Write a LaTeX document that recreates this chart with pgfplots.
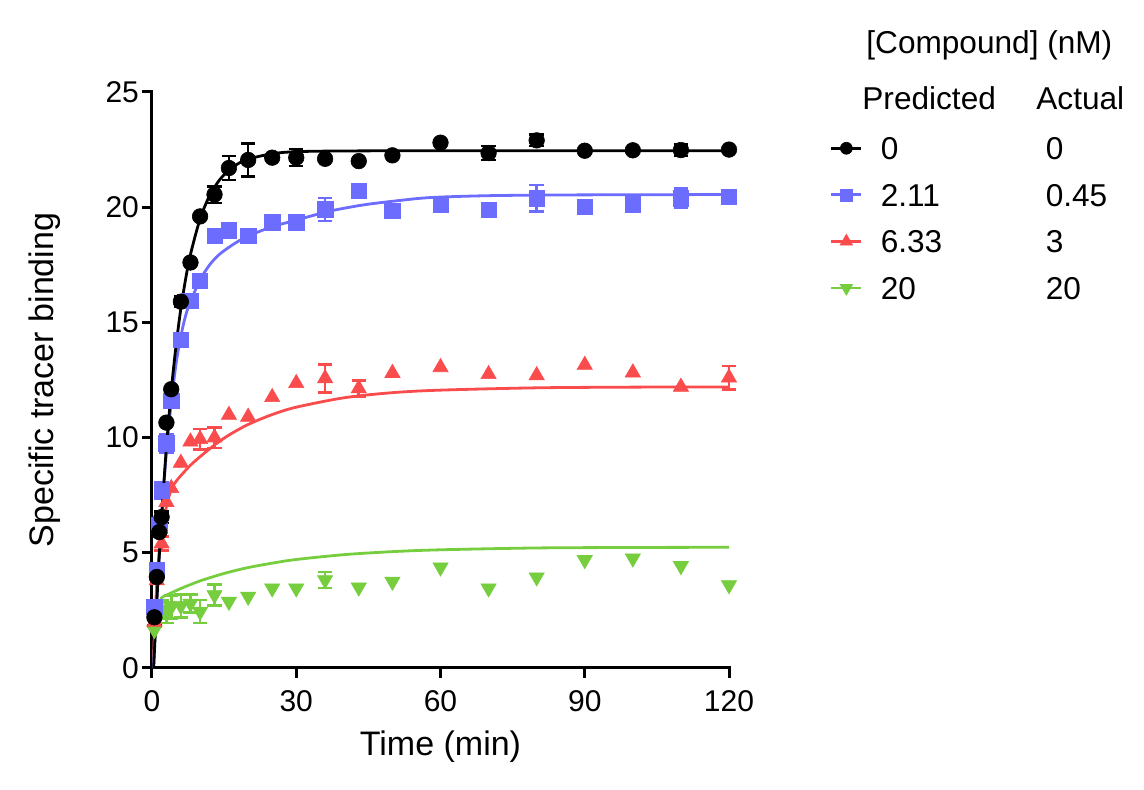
\documentclass[border=0pt]{standalone}
\usepackage{fontspec}
\setmainfont{Liberation Sans}
\usepackage{pgfplots}
\usepackage{pgfplotstable}
\pgfplotsset{compat=1.18}

\definecolor{cblue}{RGB}{108,108,255}
\definecolor{cred}{RGB}{250,76,76}
\definecolor{cgreen}{RGB}{118,206,62}

% Measured binding (mean) per time point, one table per concentration
\pgfplotstableread{
t y
0.5 2.2
1 3.95
1.5 5.9
2 6.55
3 10.65
4 12.1
6 15.9
8 17.6
10 19.6
13 20.55
16 21.7
20 22.05
25 22.15
30 22.15
36 22.1
43 22.0
50 22.25
60 22.8
70 22.35
80 22.9
90 22.45
100 22.47
110 22.48
120 22.5
}\dataA
\pgfplotstableread{
t y e
0.5 2.2 0.35
2 6.55 0.25
6 15.9 0.22
13 20.55 0.36
16 21.7 0.52
20 22.05 0.72
30 22.15 0.37
70 22.35 0.3
80 22.9 0.25
110 22.48 0.25
}\errA

\pgfplotstableread{
t y
0.5 2.65
1 4.25
1.5 6.2
2 7.7
3 9.75
4 11.6
6 14.25
8 15.95
10 16.8
13 18.75
16 19.0
20 18.75
25 19.35
30 19.35
36 19.9
43 20.7
50 19.85
60 20.1
70 19.88
80 20.38
90 20.02
100 20.12
110 20.38
120 20.46
}\dataB
\pgfplotstableread{
t y e
0.5 2.65 0.3
2 7.7 0.35
3 9.75 0.4
36 19.9 0.5
80 20.38 0.58
110 20.38 0.42
}\errB

\pgfplotstableread{
t y
0.5 2.0
1 3.8
2 5.4
3 7.2
4 7.8
6 8.9
8 9.82
10 9.93
13 10.0
16 10.98
20 10.9
25 11.75
30 12.36
36 12.57
43 12.13
50 12.8
60 13.05
70 12.75
80 12.7
90 13.15
100 12.82
110 12.2
120 12.6
}\dataC
\pgfplotstableread{
t y e
0.5 2.0 0.2
1 3.8 0.15
2 5.4 0.3
10 9.93 0.45
13 10.0 0.45
36 12.57 0.6
43 12.13 0.35
120 12.6 0.5
}\errC

\pgfplotstableread{
t y
0.5 1.65
1 2.3
2 2.55
3 2.4
4 2.65
6 2.7
8 2.8
10 2.45
13 3.17
16 2.88
20 3.1
25 3.46
30 3.46
36 3.82
43 3.5
50 3.75
60 4.37
70 3.46
80 3.94
90 4.69
100 4.76
110 4.43
120 3.6
}\dataD
\pgfplotstableread{
t y e
2 2.55 0.4
3 2.4 0.45
4 2.65 0.5
6 2.7 0.5
8 2.8 0.4
10 2.45 0.5
13 3.17 0.45
36 3.82 0.35
}\errD

% Fitted association curves
\pgfplotstableread{
t y
0.35 0
0.5 0.70
1 2.86
1.5 4.82
2 6.58
3 9.58
4 12.02
5 13.99
6 15.60
7 16.89
8 17.95
10 19.49
12 20.51
14 21.17
16 21.61
18 21.90
20 22.09
25 22.32
30 22.41
40 22.44
60 22.45
120 22.45
}\fitA
\pgfplotstableread{
t y
0.3 0
0.5 0.9
1 3.0
1.5 4.9
2 6.6
3 9.4
4 11.5
5 13.2
6 14.4
7 15.3
8 15.9
10 16.85
12 17.5
14 17.95
17 18.4
20 18.75
25 19.15
30 19.44
37 19.83
44 20.1
51 20.28
58 20.42
70 20.5
85 20.53
100 20.54
120 20.55
}\fitB
\pgfplotstableread{
t y
0.3 0
0.5 1.5
1 3.7
1.5 5.0
2 5.9
3 7.0
4 7.75
5 8.1
6 8.35
8 8.8
10 9.17
13 9.68
16 10.11
20 10.57
25 11.0
30 11.32
40 11.73
50 11.95
60 12.06
80 12.16
100 12.19
120 12.2
}\fitC
\pgfplotstableread{
t y
0.3 0
0.5 1.0
1 2.2
1.5 2.75
2 3.05
3 3.16
4 3.26
6 3.45
8 3.62
10 3.78
13 3.98
16 4.16
20 4.36
25 4.55
30 4.71
40 4.92
50 5.05
60 5.13
80 5.21
100 5.23
120 5.24
}\fitD

\pgfplotsset{
  errstyle/.style={forget plot, only marks, mark=none, #1,
    error bars/.cd, y dir=both, y explicit,
    error bar style={line width=1.3pt, #1},
    error mark options={rotate=90, line width=1.3pt, mark size=3.6pt, #1}},
  fitstyle/.style={forget plot, no markers, smooth, line width=1.4pt, #1},
}

\begin{document}
\begin{tikzpicture}
\useasboundingbox (-76pt,-61pt) rectangle (496pt,334pt);
\begin{axis}[
  scale only axis, width=288.5pt, height=288pt,
  xmin=0, xmax=120, ymin=0, ymax=25,
  axis x line*=bottom, axis y line*=left,
  axis line style={line width=1.5pt, line cap=rect},
  xtick={0,30,60,90,120}, ytick={0,5,10,15,20,25},
  tick align=outside, major tick length=5pt,
  every tick/.style={black, line width=1.5pt},
  tick label style={font=\fontsize{15}{18}\selectfont},
  xticklabel shift=2.5pt, yticklabel shift=-2pt,
  /pgf/number format/assume math mode=true,
  xlabel={Time (min)}, ylabel={Specific tracer binding},
  label style={font=\fontsize{17}{20}\selectfont},
  xlabel style={at={(axis description cs:0.5,-0.1372)}, anchor=center},
  ylabel style={at={(axis description cs:-0.1854,0.5)}, anchor=center},
  clip=false,
  legend style={draw=none, fill=none, at={(1.175,0.9219)}, anchor=north west,
    inner sep=0pt, outer sep=0pt, row sep=12pt, column sep=9pt,
    font=\fontsize{15.8}{18}\selectfont,
    nodes={inner sep=0pt, text height=11.3pt, text depth=0pt}},
  legend cell align=left,
  legend image code/.code={\draw[mark repeat=2, mark phase=2, #1]
    plot coordinates {(0pt,0pt) (7.5pt,0pt) (15pt,0pt)};},
]
% 20 nM
\addplot[errstyle=cgreen] table[x=t, y=y, y error=e] {\errD};
\addplot[fitstyle=cgreen] table[x=t, y=y] {\fitD};
\addplot[forget plot, only marks, mark=triangle*, mark size=4.4pt,
  mark options={rotate=180, fill=cgreen, draw=cgreen, line width=0.3pt}] table[x=t, y=y] {\dataD};
% 3 nM
\addplot[errstyle=cred] table[x=t, y=y, y error=e] {\errC};
\addplot[fitstyle=cred] table[x=t, y=y] {\fitC};
\addplot[forget plot, only marks, mark=triangle*, mark size=4.4pt,
  mark options={fill=cred, draw=cred, line width=0.3pt}] table[x=t, y=y] {\dataC};
% 0.45 nM
\addplot[errstyle=cblue] table[x=t, y=y, y error=e] {\errB};
\addplot[fitstyle=cblue] table[x=t, y=y] {\fitB};
\addplot[forget plot, only marks, mark=square*, mark size=3.85pt,
  mark options={fill=cblue, draw=cblue, line width=0.3pt}] table[x=t, y=y] {\dataB};
% 0 nM
\addplot[errstyle=black] table[x=t, y=y, y error=e] {\errA};
\addplot[fitstyle=black] table[x=t, y=y] {\fitA};
\addplot[forget plot, only marks, mark=*, mark size=3.9pt,
  mark options={fill=black, draw=black, line width=0.3pt}] table[x=t, y=y] {\dataA};

\addlegendimage{black, line width=1.4pt, mark=*, mark size=3pt, mark options={solid, line width=0.3pt}}
\addlegendentry{\makebox[82.5pt][l]{0}0}
\addlegendimage{cblue, line width=1.4pt, mark=square*, mark size=3pt, mark options={solid, line width=0.3pt}}
\addlegendentry{\makebox[82.5pt][l]{2.11}0.45}
\addlegendimage{cred, line width=1.4pt, mark=triangle*, mark size=3.6pt, mark options={solid, line width=0.3pt}}
\addlegendentry{\makebox[82.5pt][l]{6.33}3}
\addlegendimage{cgreen, line width=1.4pt, mark=triangle*, mark size=3.6pt, mark options={solid, rotate=180, line width=0.3pt}}
\addlegendentry{\makebox[82.5pt][l]{20}20}
\end{axis}
\node[anchor=base west, font=\fontsize{15.8}{18}\selectfont, inner sep=0pt] at (357pt,307pt) {[Compound] (nM)};
\node[anchor=base west, font=\fontsize{15.8}{18}\selectfont, inner sep=0pt] at (355pt,279pt) {Predicted};
\node[anchor=base west, font=\fontsize{15.8}{18}\selectfont, inner sep=0pt] at (442pt,279pt) {Actual};
\end{tikzpicture}
\end{document}
